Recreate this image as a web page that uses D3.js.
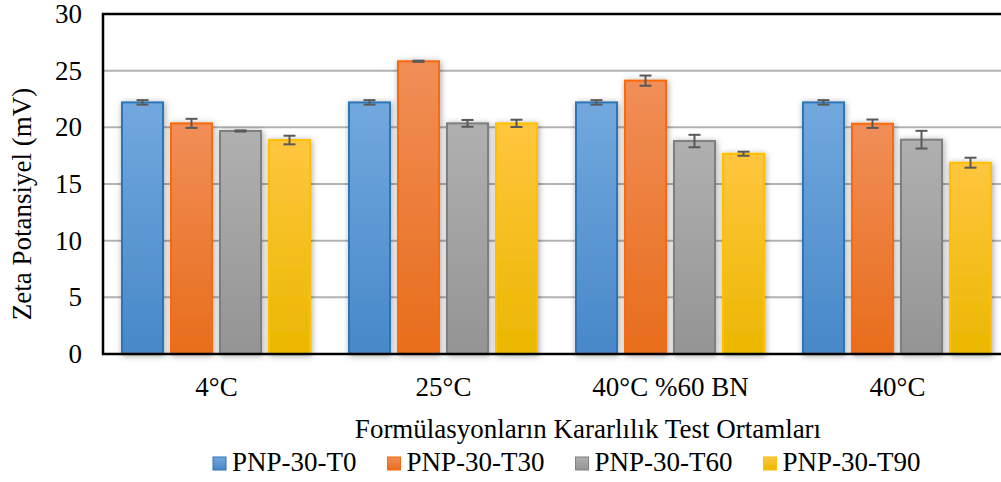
<!DOCTYPE html>
<html>
<head>
<meta charset="utf-8">
<script src="https://cdn.jsdelivr.net/npm/d3@7"></script>
<style>
  html, body { margin: 0; padding: 0; background: #fff; }
  svg { display: block; font-family: "Liberation Serif", "Times New Roman", serif; }
</style>
</head>
<body>
<svg id="chart" width="1001" height="482"></svg>
<script>
// Stability test environments (x categories)
const categories = ["4°C", "25°C", "40°C %60 BN", "40°C"];
// Formulation series
const seriesNames = ["PNP-30-T0", "PNP-30-T30", "PNP-30-T60", "PNP-30-T90"];
// Zeta potential means (mV) per series, one value per category
const valuesT0  = [22.2, 22.2, 22.2, 22.2];
const valuesT30 = [20.35, 25.83, 24.12, 20.32];
const valuesT60 = [19.68, 20.35, 18.79, 18.91];
const valuesT90 = [18.88, 20.35, 17.67, 16.88];
// Standard deviations (error bars)
const errT0  = [0.2, 0.2, 0.2, 0.2];
const errT30 = [0.4, 0.05, 0.45, 0.37];
const errT60 = [0.05, 0.3, 0.55, 0.78];
const errT90 = [0.38, 0.32, 0.18, 0.44];
// Y axis ticks
const yTicks = [0, 5, 10, 15, 20, 25, 30];

const seriesValues = [valuesT0, valuesT30, valuesT60, valuesT90];
const seriesErrors = [errT0, errT30, errT60, errT90];

const styles = [
  { stroke: "#2e75b6", top: "#72a8de", bottom: "#4788c8" },
  { stroke: "#fa6a0a", top: "#f18e58", bottom: "#e86d1b" },
  { stroke: "#7f7f7f", top: "#b0b0b0", bottom: "#949494" },
  { stroke: "#ffc000", top: "#ffc63f", bottom: "#ebb700" }
];

const svg = d3.select("#chart");
const plot = { left: 103, right: 1011, top: 14, bottom: 354 };

const x = d3.scaleBand().domain(categories).range([plot.left, plot.right]).padding(0);
const xs = d3.scaleBand().domain(seriesNames).range([19, 207]).paddingInner(8 / 49).paddingOuter(0);
const y = d3.scaleLinear().domain([0, 30]).range([plot.bottom, plot.top]);

const defs = svg.append("defs");
styles.forEach((s, i) => {
  const g = defs.append("linearGradient").attr("id", "grad" + i)
    .attr("x1", 0).attr("y1", 0).attr("x2", 0).attr("y2", 1);
  g.append("stop").attr("offset", "0%").attr("stop-color", s.top);
  g.append("stop").attr("offset", "100%").attr("stop-color", s.bottom);
});
const shadow = defs.append("filter").attr("id", "shadow")
  .attr("x", "-30%").attr("y", "-10%").attr("width", "160%").attr("height", "120%");
shadow.append("feDropShadow").attr("dx", 1).attr("dy", 1)
  .attr("stdDeviation", 3).attr("flood-color", "#000").attr("flood-opacity", 0.35);

// Horizontal gridlines
svg.append("g").selectAll("line").data(yTicks.filter(d => d > 0 && d < 30)).join("line")
  .attr("x1", plot.left).attr("x2", plot.right)
  .attr("y1", d => y(d)).attr("y2", d => y(d))
  .attr("stroke", "#b2b2b2").attr("stroke-width", 2);

// Bars
const groups = svg.append("g").selectAll("g").data(categories).join("g")
  .attr("transform", d => `translate(${x(d)},0)`);

groups.each(function (cat, ci) {
  const g = d3.select(this);
  seriesNames.forEach((s, si) => {
    const v = seriesValues[si][ci];
    g.append("rect")
      .attr("x", xs(s)).attr("width", xs.bandwidth())
      .attr("y", y(v)).attr("height", y(0) - y(v))
      .attr("fill", `url(#grad${si})`)
      .attr("stroke", styles[si].stroke).attr("stroke-width", 2)
      .attr("filter", "url(#shadow)");
  });
});

// Error bars
groups.each(function (cat, ci) {
  const g = d3.select(this);
  seriesNames.forEach((s, si) => {
    const v = seriesValues[si][ci], e = seriesErrors[si][ci];
    const cx = xs(s) + xs.bandwidth() / 2;
    const eb = g.append("g").attr("stroke", "#595959").attr("stroke-width", 2);
    eb.append("line").attr("x1", cx).attr("x2", cx).attr("y1", y(v - e)).attr("y2", y(v + e));
    eb.append("line").attr("x1", cx - 6).attr("x2", cx + 6).attr("y1", y(v - e)).attr("y2", y(v - e));
    eb.append("line").attr("x1", cx - 6).attr("x2", cx + 6).attr("y1", y(v + e)).attr("y2", y(v + e));
  });
});

// Frame: left, bottom, top borders
const frame = svg.append("g").attr("stroke", "#000").attr("stroke-width", 2.5).attr("fill", "none");
frame.append("path").attr("d", `M${plot.right},${plot.top}H${plot.left}V${plot.bottom}H${plot.right}`);

// Y axis tick labels
svg.append("g").selectAll("text").data(yTicks).join("text")
  .attr("x", 82).attr("y", d => y(d)).attr("dy", "0.33em")
  .attr("text-anchor", "end").attr("font-size", 27).attr("fill", "#000")
  .text(d => d);

// X axis category labels
svg.append("g").selectAll("text").data(categories).join("text")
  .attr("x", d => x(d) + x.bandwidth() / 2).attr("y", 396)
  .attr("text-anchor", "middle").attr("font-size", 27).attr("fill", "#000")
  .text(d => d);

// Axis titles
svg.append("text")
  .attr("transform", "translate(31,204) rotate(-90)")
  .attr("text-anchor", "middle").attr("font-size", 27).attr("fill", "#000")
  .text("Zeta Potansiyel (mV)");

svg.append("text")
  .attr("x", 588).attr("y", 438)
  .attr("text-anchor", "middle").attr("font-size", 27).attr("fill", "#000")
  .text("Formülasyonların Kararlılık Test Ortamları");

// Legend
const legend = svg.append("g");
let lx = 213;
seriesNames.forEach((s, si) => {
  legend.append("rect")
    .attr("x", lx).attr("y", 457).attr("width", 13).attr("height", 13)
    .attr("fill", `url(#grad${si})`).attr("stroke", styles[si].stroke).attr("stroke-width", 1);
  const t = legend.append("text")
    .attr("x", lx + 19).attr("y", 471).attr("font-size", 27).attr("fill", "#000")
    .text(s);
  lx += 19 + t.node().getComputedTextLength() + 31;
});
</script>
</body>
</html>
